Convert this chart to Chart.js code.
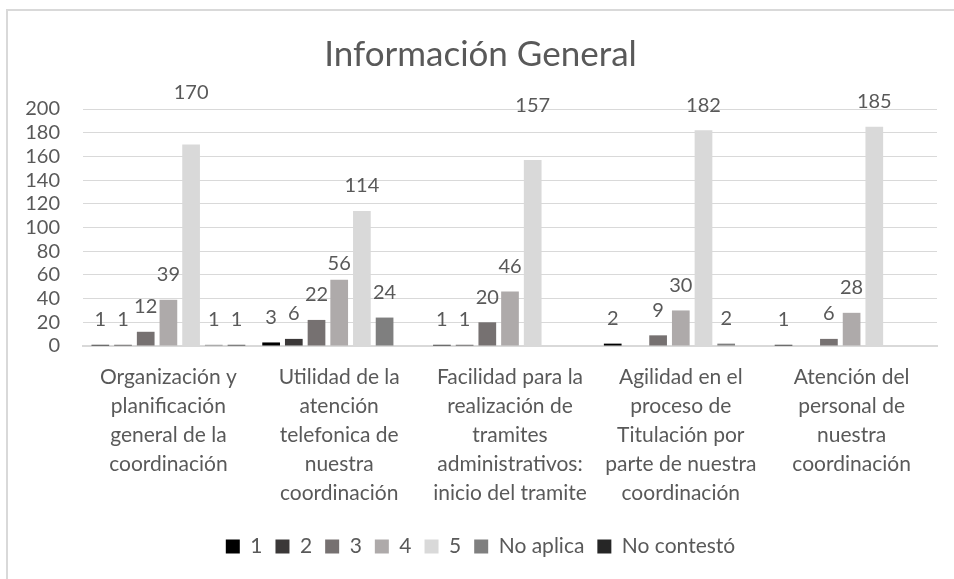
<!DOCTYPE html>
<html>
<head>
<meta charset="utf-8">
<script src="https://cdn.jsdelivr.net/npm/chart.js@4.4.0/dist/chart.umd.min.js"></script>
<style>
  html, body { margin: 0; padding: 0; background: #fff; }
  #wrap { width: 954px; height: 579px; }
</style>
</head>
<body>
<div id="wrap"><canvas id="infoChart" width="954" height="579"></canvas></div>
<script>
// categories (x axis, multi-line as in the original)
const categories = [
  ["Organización y", "planificación", "general de la", "coordinación"],
  ["Utilidad de la", "atención", "telefonica de", "nuestra", "coordinación"],
  ["Facilidad para la", "realización de", "tramites", "administrativos:", "inicio del tramite"],
  ["Agilidad en el", "proceso de", "Titulación por", "parte de nuestra", "coordinación"],
  ["Atención del", "personal de", "nuestra", "coordinación"]
];

// series
const seriesNames = ["1", "2", "3", "4", "5", "No aplica", "No contestó"];
const seriesColors = ["#000000", "#3b3838", "#767171", "#aeaaaa", "#d9d9d9", "#7f7f7f", "#262626"];
const values1 = [1, 3, 1, 2, 1];
const values2 = [1, 6, 1, null, null];
const values3 = [12, 22, 20, 9, 6];
const values4 = [39, 56, 46, 30, 28];
const values5 = [170, 114, 157, 182, 185];
const valuesNoAplica = [1, 24, null, 2, null];
const valuesNoContesto = [1, null, null, null, null];
const allValues = [values1, values2, values3, values4, values5, valuesNoAplica, valuesNoContesto];

// y axis ticks
const yTicks = [0, 20, 40, 60, 80, 100, 120, 140, 160, 180, 200];

const textColor = "#595959";
const fontFamily = "Lato, 'Open Sans', sans-serif";

// a few value labels were dragged in the original (series index : category index -> extra px)
const labelNudge = { "4:0": -27, "4:2": -29, "3:1": 9 };

//! chart frame (only top and left edges are visible in the original)
const chartFrame = {
  id: "chartFrame",
  beforeDraw(chart) {
    const ctx = chart.ctx;
    ctx.save();
    ctx.fillStyle = "#ffffff";
    ctx.fillRect(0, 0, chart.width, chart.height);
    ctx.strokeStyle = "#d9d9d9";
    ctx.lineWidth = 2;
    ctx.beginPath();
    ctx.moveTo(7, chart.height + 5);
    ctx.lineTo(7, 10);
    ctx.lineTo(chart.width + 5, 10);
    ctx.stroke();
    ctx.restore();
  }
};

//! value labels above bars
const barValueLabels = {
  id: "barValueLabels",
  afterDatasetsDraw(chart) {
    const ctx = chart.ctx;
    ctx.save();
    ctx.font = "20px " + fontFamily;
    ctx.fillStyle = textColor;
    ctx.textAlign = "center";
    ctx.textBaseline = "middle";
    chart.data.datasets.forEach((ds, i) => {
      chart.getDatasetMeta(i).data.forEach((bar, j) => {
        const v = ds.data[j];
        if (v === null || v === undefined) return;
        const nudge = labelNudge[i + ":" + j] || 0;
        ctx.fillText(String(v), bar.x, bar.y - 25 + nudge);
      });
    });
    ctx.restore();
  }
};

const ctx = document.getElementById("infoChart").getContext("2d");
new Chart(ctx, {
  type: "bar",
  data: {
    labels: categories,
    datasets: seriesNames.map((name, i) => ({
      label: name,
      data: allValues[i],
      backgroundColor: seriesColors[i],
      borderWidth: 0,
      categoryPercentage: 0.93,
      barPercentage: 0.78
    }))
  },
  options: {
    responsive: false,
    animation: false,
    layout: { padding: { left: 24, right: 17, top: 0, bottom: 12 } },
    plugins: {
      title: {
        display: true,
        text: "Información General",
        color: textColor,
        font: { family: fontFamily, size: 35, weight: "normal" },
        padding: { top: 34, bottom: 33 }
      },
      legend: {
        position: "bottom",
        labels: {
          color: textColor,
          font: { family: fontFamily, size: 21 },
          boxWidth: 14,
          boxHeight: 14,
          padding: 13
        }
      },
      tooltip: { enabled: false }
    },
    scales: {
      x: {
        grid: { display: false, drawTicks: false },
        border: { display: true, color: "#d9d9d9", width: 2 },
        ticks: {
          color: textColor,
          font: { family: fontFamily, size: 21, lineHeight: 1.38 },
          padding: 17,
          maxRotation: 0,
          autoSkip: false
        },
        afterFit: s => { s.height = 177; }
      },
      y: {
        min: 0,
        max: 200,
        grid: { color: "#d9d9d9", lineWidth: 1, drawTicks: false },
        border: { display: false },
        ticks: {
          color: textColor,
          font: { family: fontFamily, size: 20 },
          padding: 23,
          autoSkip: false
        },
        afterBuildTicks: s => { s.ticks = yTicks.map(v => ({ value: v })); },
        afterFit: s => { s.width = 59; }
      }
    }
  },
  plugins: [chartFrame, barValueLabels]
});
</script>
</body>
</html>
